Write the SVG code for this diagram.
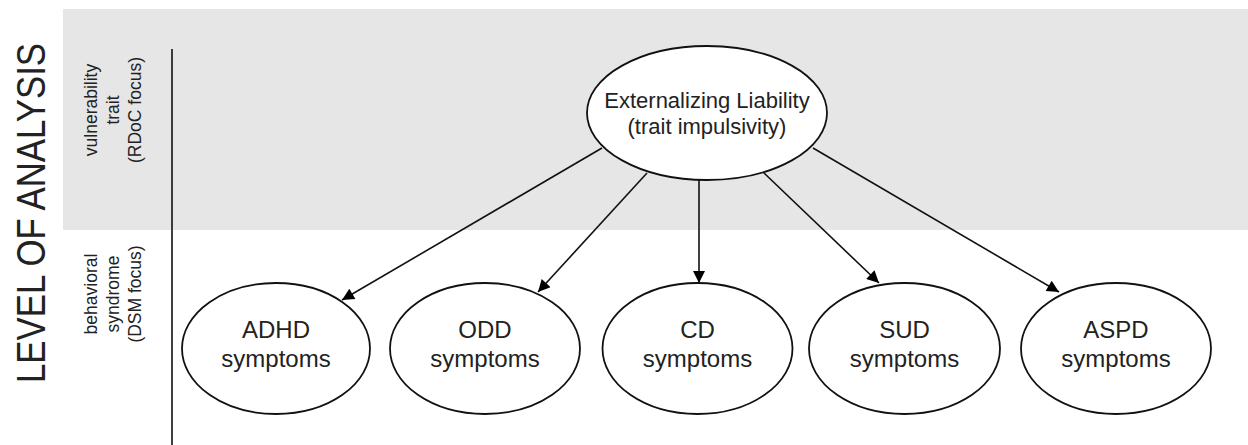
<svg xmlns="http://www.w3.org/2000/svg" width="1248" height="445" viewBox="0 0 1248 445">
  <defs>
    <marker id="arrow" viewBox="0 0 10 10" refX="10" refY="5" markerWidth="14" markerHeight="12" markerUnits="userSpaceOnUse" orient="auto">
      <path d="M0,0 L10,5 L0,10 z" fill="#000"/>
    </marker>
  </defs>
  <style>
    text { font-family: "Liberation Sans", Arial, sans-serif; fill: #222; }
    .node ellipse { fill: #fff; stroke: #111; stroke-width: 1.8; }
    .lbl { font-size: 24px; text-anchor: middle; }
    .top { font-size: 22px; text-anchor: middle; }
    .side { font-size: 17.5px; text-anchor: middle; }
    .conn line { stroke: #111; stroke-width: 1.6; marker-end: url(#arrow); }
  </style>
  <rect x="63" y="9" width="1185" height="221" fill="#e6e6e6"/>
  <line x1="172" y1="49" x2="172" y2="445" stroke="#111" stroke-width="1.6"/>

  <g id="axis-title">
    <text transform="translate(45,213) rotate(-90)" font-size="40" text-anchor="middle" textLength="340" lengthAdjust="spacingAndGlyphs">LEVEL OF ANALYSIS</text>
  </g>
  <g id="label-trait">
    <text class="side" transform="translate(97,110) rotate(-90)">vulnerability</text>
    <text class="side" transform="translate(119,110) rotate(-90)">trait</text>
    <text class="side" transform="translate(141,110) rotate(-90)">(RDoC focus)</text>
  </g>
  <g id="label-syndrome">
    <text class="side" transform="translate(97,294) rotate(-90)">behavioral</text>
    <text class="side" transform="translate(119,294) rotate(-90)">syndrome</text>
    <text class="side" transform="translate(141,294) rotate(-90)">(DSM focus)</text>
  </g>

  <g id="connectors" class="conn">
    <line x1="602" y1="148" x2="342" y2="300"/>
    <line x1="647" y1="173" x2="538" y2="292"/>
    <line x1="699" y1="180" x2="699" y2="283"/>
    <line x1="764" y1="173" x2="879" y2="283"/>
    <line x1="813" y1="148" x2="1059" y2="292"/>
  </g>

  <g id="externalizing" class="node">
    <ellipse cx="707" cy="113" rx="120" ry="67"/>
    <text class="top" x="707" y="108">Externalizing Liability</text>
    <text class="top" x="707" y="134">(trait impulsivity)</text>
  </g>
  <g id="adhd" class="node">
    <ellipse cx="276" cy="348.5" rx="94" ry="65.5"/>
    <text class="lbl" x="276" y="338">ADHD</text>
    <text class="lbl" x="276" y="367">symptoms</text>
  </g>
  <g id="odd" class="node">
    <ellipse cx="485" cy="348.5" rx="95" ry="65.5"/>
    <text class="lbl" x="485" y="338">ODD</text>
    <text class="lbl" x="485" y="367">symptoms</text>
  </g>
  <g id="cd" class="node">
    <ellipse cx="697.5" cy="348.5" rx="95" ry="65.5"/>
    <text class="lbl" x="697.5" y="338">CD</text>
    <text class="lbl" x="697.5" y="367">symptoms</text>
  </g>
  <g id="sud" class="node">
    <ellipse cx="904.5" cy="348.5" rx="95.5" ry="65.5"/>
    <text class="lbl" x="904.5" y="338">SUD</text>
    <text class="lbl" x="904.5" y="367">symptoms</text>
  </g>
  <g id="aspd" class="node">
    <ellipse cx="1116" cy="348.5" rx="95" ry="65.5"/>
    <text class="lbl" x="1116" y="338">ASPD</text>
    <text class="lbl" x="1116" y="367">symptoms</text>
  </g>
</svg>
